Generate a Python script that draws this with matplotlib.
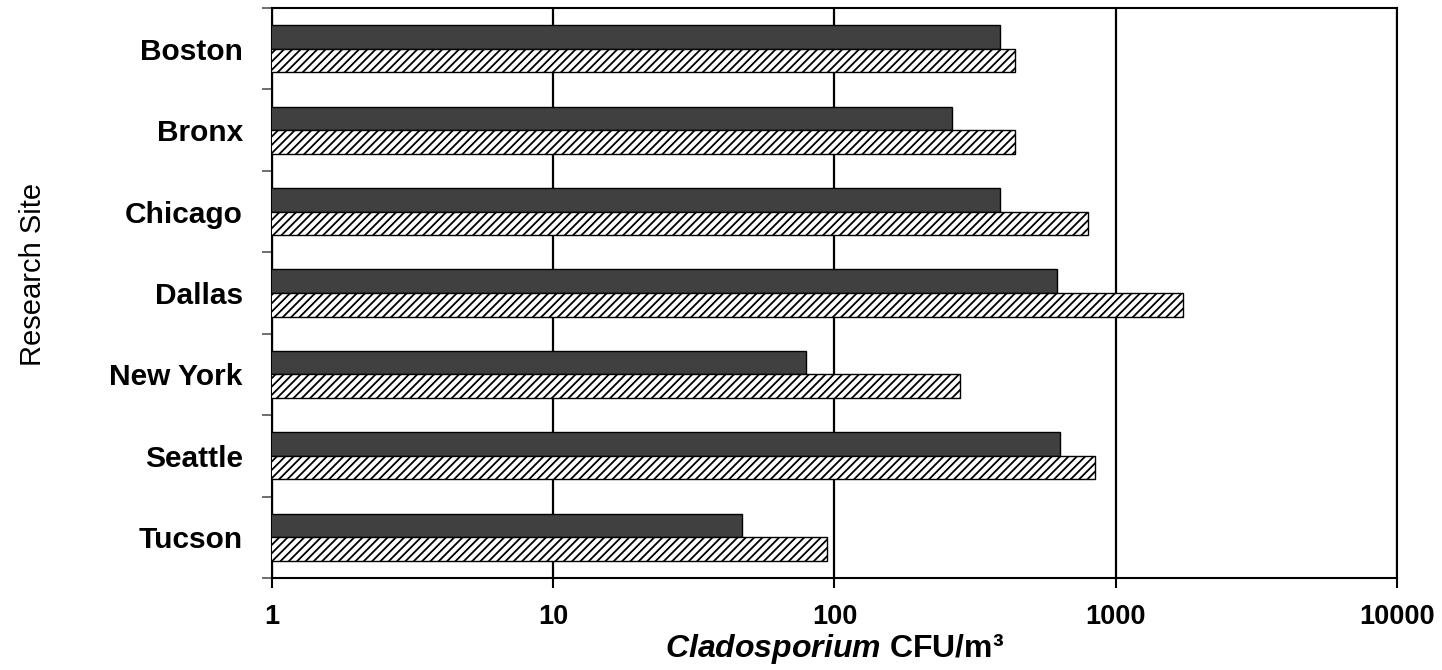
import matplotlib
matplotlib.use("Agg")
import matplotlib.pyplot as plt
import numpy as np

sites = ["Boston", "Bronx", "Chicago", "Dallas", "New York", "Seattle", "Tucson"]
series_dark = [388, 262, 388, 618, 79, 634, 47]
series_hatched = [438, 438, 800, 1734, 279, 844, 94]
x_ticks = [1, 10, 100, 1000, 10000]
x_tick_labels = ["1", "10", "100", "1000", "10000"]

plt.rcParams['font.family'] = ['Liberation Sans', 'DejaVu Sans']
plt.rcParams['hatch.linewidth'] = 1.3
plt.rcParams['mathtext.fontset'] = 'custom'
plt.rcParams['mathtext.rm'] = 'Liberation Sans'
plt.rcParams['mathtext.it'] = 'Liberation Sans:italic'
plt.rcParams['mathtext.bf'] = 'Liberation Sans:bold'
plt.rcParams['mathtext.bfit'] = 'Liberation Sans:italic:bold'

fig = plt.figure(figsize=(14.42, 6.70), dpi=100)
ax = fig.add_axes([0.1886, 0.1373, 0.7802, 0.8507])

y = np.arange(len(sites))
h = 0.29
ax.barh(y - h / 2, series_dark, height=h, left=0, color="#404040",
        edgecolor="black", linewidth=1.0, zorder=3)
ax.barh(y + h / 2, series_hatched, height=h, left=0, color="white",
        edgecolor="black", hatch="////", linewidth=1.0, zorder=3)

ax.set_xscale("log")
ax.set_xlim(1, 10000)
ax.set_ylim(len(sites) - 0.5, -0.5)

ax.set_xticks(x_ticks)
ax.set_xticklabels(x_tick_labels, fontsize=19.5, fontweight="bold")
ax.xaxis.set_minor_locator(matplotlib.ticker.NullLocator())
ax.tick_params(axis="x", which="major", direction="out", length=7, width=1.5,
               pad=12, color="black")
ax.grid(axis="x", which="major", color="black", linewidth=1.6, zorder=1)

ax.set_yticks(y)
ax.set_yticklabels(sites, fontsize=21.5, fontweight="bold")
ax.tick_params(axis="y", which="major", length=0, pad=21)
ax.set_yticks(np.arange(len(sites) + 1) - 0.5, minor=True)
ax.tick_params(axis="y", which="minor", direction="out", length=7, width=1.2,
               color="#555555")

for s in ax.spines.values():
    s.set_linewidth(1.5)
    s.set_color("black")

ax.set_ylabel("Research Site", fontsize=21)
ax.yaxis.set_label_coords(-0.2, 0.532)
ax.set_xlabel(r"$\mathbfit{Cladosporium}$ CFU/m³", fontsize=23,
              fontweight="bold")
ax.xaxis.set_label_coords(0.5, -0.094)

fig.savefig("out.png", dpi=100)
